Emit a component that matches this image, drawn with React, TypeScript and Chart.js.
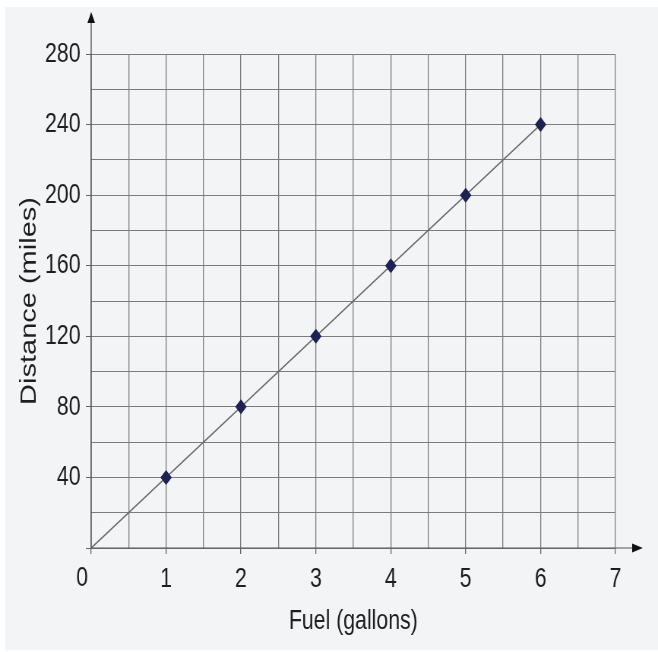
import React, { useEffect, useRef } from "react";
import { Chart, registerables } from "chart.js";

Chart.register(...registerables);

const fuelGallons = [0, 1, 2, 3, 4, 5, 6];
const distanceMiles = [0, 40, 80, 120, 160, 200, 240];
const xTitle = "Fuel (gallons)";
const yTitle = "Distance (miles)";
const xMin = 0, xMax = 7, xStep = 0.5;
const yMin = 0, yMax = 280, yStep = 20;

// The reference is horizontally squeezed; render wide and squeeze by CSS.
const OUT_W = 658;
const OUT_H = 652;
const CW = 866;
const SX = OUT_W / CW;

const FONT = "'Liberation Sans', Arial, sans-serif";
const TEXT = "#1e1e1e";
const GRID = "#7c7c7c";

const decorPlugin = {
  id: "decor",
  beforeDraw(chart: any) {
    const ctx = chart.ctx;
    ctx.save();
    ctx.fillStyle = "#ffffff";
    ctx.fillRect(0, 0, chart.width, chart.height);
    ctx.fillStyle = "#f3f4f6";
    ctx.fillRect(7, 7, chart.width - 7, chart.height - 9);
    ctx.restore();
  },
  afterDatasetsDraw(chart: any) {
    const ctx = chart.ctx;
    const xs = chart.scales.x;
    const ys = chart.scales.y;
    const ox = xs.getPixelForValue(0);
    const oy = ys.getPixelForValue(0);
    ctx.save();
    ctx.strokeStyle = "#555555";
    ctx.lineWidth = 1.4;
    ctx.beginPath();
    ctx.moveTo(ox, oy);
    ctx.lineTo(ox, 20);
    ctx.stroke();
    ctx.lineWidth = 1.2;
    ctx.beginPath();
    ctx.moveTo(ox, oy);
    ctx.lineTo(834, oy);
    ctx.stroke();
    ctx.fillStyle = "#111111";
    ctx.beginPath();
    ctx.moveTo(ox, 12);
    ctx.lineTo(ox + 5, 23);
    ctx.lineTo(ox - 5, 23);
    ctx.closePath();
    ctx.fill();
    ctx.beginPath();
    ctx.moveTo(846, oy);
    ctx.lineTo(832, oy - 4.5);
    ctx.lineTo(832, oy + 4.5);
    ctx.closePath();
    ctx.fill();
    // shared origin label
    ctx.fillStyle = TEXT;
    ctx.font = "28px " + FONT;
    ctx.textAlign = "center";
    ctx.textBaseline = "middle";
    ctx.fillText("0", ox - 12, oy + 30);
    ctx.restore();
  },
};

export default function App() {
  const ref = useRef<HTMLCanvasElement | null>(null);
  useEffect(() => {
    if (!ref.current) return;
    const chart = new Chart(ref.current, {
      type: "scatter",
      data: {
        datasets: [
          {
            data: fuelGallons.map((x, i) => ({ x, y: distanceMiles[i] })),
            showLine: true,
            borderColor: "#6c6c6c",
            borderWidth: 1.6,
            pointStyle: "rectRot",
            pointRadius: (c: any) => (c.dataIndex === 0 ? 0 : 7.5),
            backgroundColor: "#1e2152",
            pointBorderWidth: 0,
          } as any,
        ],
      },
      options: {
        animation: false,
        responsive: false,
        layout: { padding: { left: 7, top: 54, right: 56, bottom: 0 } },
        plugins: { legend: { display: false }, tooltip: { enabled: false } },
        scales: {
          x: {
            type: "linear",
            min: xMin,
            max: xMax,
            afterFit: (s: any) => {
              s.height = 104;
            },
            ticks: {
              stepSize: xStep,
              autoSkip: false,
              maxRotation: 0,
              padding: 8,
              color: TEXT,
              font: { family: FONT, size: 28 },
              callback: (v: any) => (Number.isInteger(v) && v !== 0 ? String(v) : ""),
            },
            grid: {
              color: GRID,
              lineWidth: 1.3,
              tickLength: 6,
              tickColor: (c: any) => (c.tick && Number.isInteger(c.tick.value) ? "#666666" : "rgba(0,0,0,0)"),
            },
            border: { display: false },
            title: {
              display: true,
              text: xTitle,
              color: TEXT,
              font: { family: FONT, size: 28 },
              padding: { top: 0, bottom: 14 },
            },
          },
          y: {
            type: "linear",
            min: yMin,
            max: yMax,
            afterFit: (s: any) => {
              s.width = 113;
            },
            ticks: {
              stepSize: yStep,
              autoSkip: false,
              padding: 7,
              color: TEXT,
              font: { family: FONT, size: 28 },
              callback: (v: any) => (v % 40 === 0 && v !== 0 ? String(v) : ""),
            },
            grid: {
              color: GRID,
              lineWidth: 1,
              tickLength: 7,
              tickColor: (c: any) => (c.tick && c.tick.value % 40 === 0 ? "#666666" : "rgba(0,0,0,0)"),
            },
            border: { display: false },
            title: {
              display: true,
              text: yTitle,
              color: TEXT,
              font: { family: FONT, size: 29 },
              padding: { top: 15, bottom: 0 },
            },
          },
        },
      },
      plugins: [decorPlugin],
    });
    return () => chart.destroy();
  }, []);
  return (
    <div style={{ position: "fixed", left: 0, top: 0, width: OUT_W, height: OUT_H, overflow: "hidden", background: "#ffffff" }}>
      <canvas
        ref={ref}
        width={CW}
        height={OUT_H}
        style={{
          width: CW,
          height: OUT_H,
          display: "block",
          transform: `scaleX(${SX})`,
          transformOrigin: "0 0",
        }}
      />
    </div>
  );
}
